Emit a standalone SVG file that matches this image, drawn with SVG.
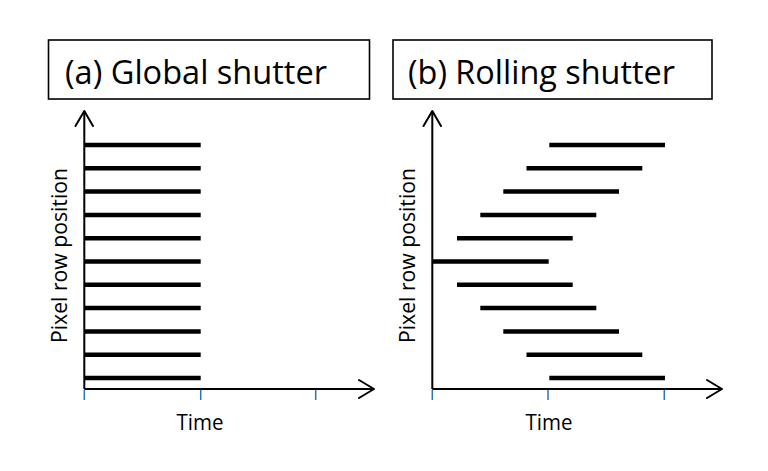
<svg xmlns="http://www.w3.org/2000/svg" width="768" height="471" viewBox="0 0 768 471">
<style>
.box{fill:#fff;stroke:#000;stroke-width:1.6}
.title{font-family:"Open Sans","Noto Sans",sans-serif;font-size:33px;fill:#000}
.lbl{font-family:"Open Sans","Noto Sans",sans-serif;font-size:21.5px;fill:#000}
.axis{stroke:#000;stroke-width:2;fill:none}
.head{stroke:#000;stroke-width:2;fill:none;stroke-linecap:round;stroke-linejoin:round}
.bar{stroke:#000;stroke-width:4.5}
.tick{stroke:#2E75B6;stroke-width:1.5}
</style>
<rect width="768" height="471" fill="#fff"/>
<g id="title-a">
<rect class="box" x="48.5" y="40" width="321" height="59"/>
<text class="title" x="65" y="84" textLength="262" lengthAdjust="spacingAndGlyphs">(a) Global shutter</text>
</g>
<g id="title-b">
<rect class="box" x="393" y="40" width="319" height="59"/>
<text class="title" x="408" y="84" textLength="267" lengthAdjust="spacingAndGlyphs">(b) Rolling shutter</text>
</g>
<g id="axes-a">
<path class="axis" d="M84.3,389 V111 M84.3,389 H374"/>
<path class="head" d="M75.5,126 L84.3,111 L93,126 M359,380 L374,389 L359,398"/>
<path class="tick" d="M84.3,390 V400 M200.7,390 V400 M315.7,390 V400"/>
<text class="lbl" x="200" y="430" text-anchor="middle" textLength="47" lengthAdjust="spacingAndGlyphs">Time</text>
<text class="lbl" transform="translate(67,255.5) rotate(-90)" text-anchor="middle" textLength="175" lengthAdjust="spacingAndGlyphs">Pixel row position</text>
</g>
<g id="bars-a">
<path class="bar" d="M84,145 H200.7 M84,168.3 H200.7 M84,191.6 H200.7 M84,214.9 H200.7 M84,238.2 H200.7 M84,261.5 H200.7 M84,284.8 H200.7 M84,308.1 H200.7 M84,331.4 H200.7 M84,354.7 H200.7 M84,378 H200.7"/>
</g>
<g id="axes-b">
<path class="axis" d="M432.3,389 V111 M432.3,389 H722"/>
<path class="head" d="M423.5,126 L432.3,111 L441,126 M707,380 L722,389 L707,398"/>
<path class="tick" d="M432.3,390 V400 M548,390 V400 M664.3,390 V400"/>
<text class="lbl" x="549" y="430" text-anchor="middle" textLength="47" lengthAdjust="spacingAndGlyphs">Time</text>
<text class="lbl" transform="translate(415,255.5) rotate(-90)" text-anchor="middle" textLength="175" lengthAdjust="spacingAndGlyphs">Pixel row position</text>
</g>
<g id="bars-b">
<path class="bar" d="M549.3,145 H665 M526.5,168.3 H642.3 M503.3,191.6 H619 M480.3,214.9 H596.3 M457,238.2 H572.7 M432,261.5 H548.7 M457,284.8 H572.7 M480.3,308.1 H596.3 M503.3,331.4 H619 M526.5,354.7 H642.3 M549.3,378 H665"/>
</g>
</svg>
